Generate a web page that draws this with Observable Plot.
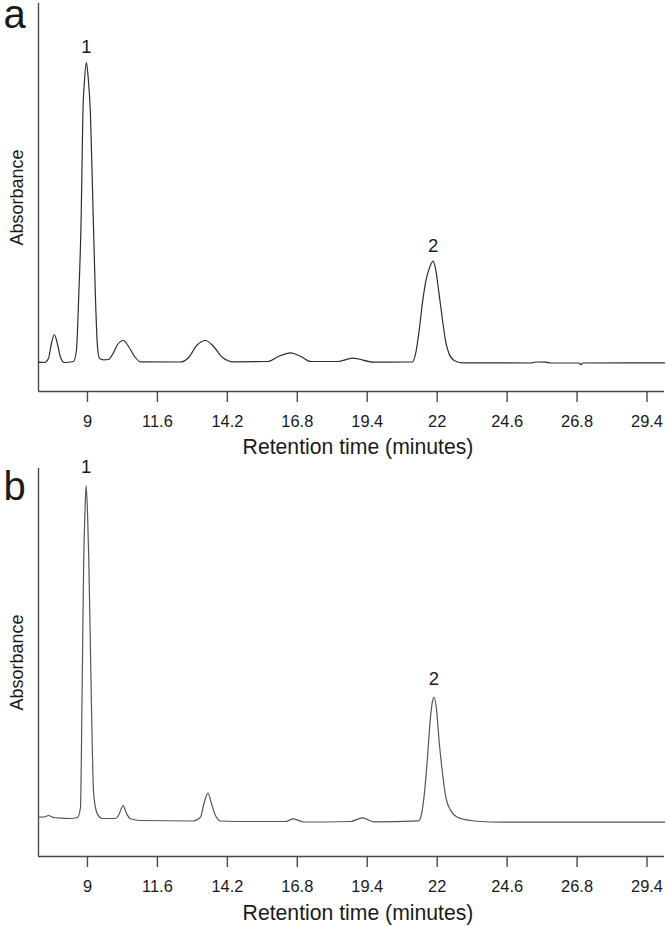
<!DOCTYPE html>
<html>
<head>
<meta charset="utf-8">
<script src="https://cdn.jsdelivr.net/npm/d3@7"></script>
<script src="https://cdn.jsdelivr.net/npm/@observablehq/plot@0.6"></script>
<style>
  html, body { margin: 0; padding: 0; background: #fff; }
  #chart { width: 666px; }
  #chart svg { display: block; }
</style>
</head>
<body>
<div id="chart"></div>
<script>
// ---- Data ----
// Tick positions are evenly spaced on the picture; the last two printed labels
// read 26.8 and 29.4 although they sit where 27.2 and 29.8 would fall.
const xTickValues = [9, 11.6, 14.2, 16.8, 19.4, 22, 24.6, 27.2, 29.8];
const xTickLabels = ["9", "11.6", "14.2", "16.8", "19.4", "22", "24.6", "26.8", "29.4"];
const xDomain = [7.18, 30.45];

// Panel a trace: retention time (min) and absorbance (arbitrary units)
const timeA = [7.18, 7.40, 7.55, 7.66, 7.77, 7.88, 8.00, 8.14, 8.48, 8.59, 8.67, 8.77, 8.83, 8.89, 8.96, 9.02, 9.11, 9.21, 9.30, 9.37, 9.45, 9.60, 9.78, 9.93, 10.12, 10.33, 10.53, 10.75, 10.97, 12.46, 12.76, 13.06, 13.39, 13.69, 14.02, 14.43, 15.70, 16.10, 16.55, 16.93, 17.30, 18.30, 18.85, 19.64, 21.08, 21.20, 21.33, 21.45, 21.57, 21.70, 21.85, 21.95, 22.07, 22.20, 22.32, 22.44, 22.63, 22.94, 25.48, 25.67, 26.04, 26.22, 27.27, 27.34, 27.42, 30.45];
const absA  = [0.1, 0, 1.33, 6.33, 9.33, 6.33, 1.67, 0, 0.33, 4, 20.7, 50, 83, 94, 100, 95.7, 83, 50, 20.7, 5.67, 1.33, 0.9, 1.0, 2.67, 6, 7.33, 5.33, 2, 0.23, 0.17, 1.67, 5.67, 7.33, 5.33, 1.67, 0.23, 0.33, 2, 3.23, 2, 0.33, 0.33, 1.43, 0.1, 0.17, 3, 10.7, 19.7, 26.8, 31.2, 33.8, 30.7, 22.9, 14, 6.77, 2.9, 0.67, -0.1, -0.17, 0.17, 0.1, -0.17, -0.17, -0.67, -0.17, -0.1];

// Panel b trace
const timeB = [7.18, 7.40, 7.55, 7.74, 8.00, 8.37, 8.63, 8.74, 8.80, 8.86, 8.91, 8.95, 9.00, 9.05, 9.14, 9.23, 9.36, 9.55, 10.04, 10.15, 10.33, 10.45, 10.60, 10.97, 12.94, 13.20, 13.33, 13.48, 13.61, 13.76, 13.95, 15.06, 16.37, 16.65, 17.04, 18.78, 19.22, 19.64, 21.31, 21.39, 21.51, 21.64, 21.73, 21.82, 21.88, 21.98, 22.07, 22.20, 22.32, 22.50, 22.75, 23.25, 23.62, 24.36, 28.08, 30.45];
const absB  = [1.43, 1.5, 2.0, 1.33, 1.1, 1.0, 1.33, 4.67, 42.7, 87, 103.7, 112, 103.7, 87, 42.7, 9.3, 2.7, 1.0, 1.0, 2, 5.3, 2.7, 0.9, 0.33, 0.17, 1.43, 6, 9.43, 6, 2, 0.17, 0, 0, 0.9, -0.17, 0, 1.23, -0.1, 0.23, 1.43, 8.1, 21.4, 32.6, 39.8, 41.4, 37, 27, 15.9, 8.1, 3.7, 1.43, 0.33, 0, -0.23, -0.23, -0.23];

// Peak annotations
const peakLabels = ["1", "2"];
const peakTimeA = [8.96, 21.85];
const peakAbsA  = [100, 33.8];
const peakTimeB = [8.95, 21.88];
const peakAbsB  = [112, 41.4];

const panelLetters = ["a", "b"];
const yLabel = "Absorbance";
const xLabel = "Retention time (minutes)";

const FONT = "'Liberation Sans', Arial, Helvetica, sans-serif";

function panel({letter, time, abs, peakT, peakV, yDomain, marginTop, marginBottom, stroke, letterDy, labelDy, titleDy}) {
  const data = time.map((t, i) => ({t, v: abs[i]}));
  return Plot.plot({
    width: 666,
    height: 463,
    marginLeft: 38,
    marginRight: 2,
    marginTop,
    marginBottom,
    style: {fontFamily: FONT, background: "white", color: "#1a1a1a", overflow: "visible"},
    x: {domain: xDomain},
    y: {domain: yDomain, axis: null},
    marks: [
      Plot.axisX({
        ticks: xTickValues,
        tickFormat: d => xTickLabels[xTickValues.indexOf(d)],
        tickSize: 11,
        tickPadding: 13,
        fontSize: 16.4,
        label: null,
        stroke: "#4a4a4a",
        strokeWidth: 1.4
      }),
      Plot.ruleX([xDomain[0]], {stroke: "#4a4a4a", strokeWidth: 1.4}),
      Plot.ruleY([yDomain[0]], {stroke: "#4a4a4a", strokeWidth: 1.4}),
      Plot.line(data, {x: "t", y: "v", stroke, strokeWidth: 1.2, curve: "monotone-x"}),
      Plot.text(peakLabels, {x: (d, i) => peakT[i], y: (d, i) => peakV[i], text: d => d, dy: labelDy, fontSize: 18.5}),
      Plot.text([letter], {frameAnchor: "top-left", dx: -24, dy: letterDy, fontSize: 40, lineAnchor: "bottom", textAnchor: "middle"}),
      Plot.text([yLabel], {frameAnchor: "left", rotate: -90, dx: -21.5, fontSize: 18, lineAnchor: "middle", textAnchor: "middle"}),
      Plot.text([xLabel], {frameAnchor: "bottom", dx: 6.5, dy: titleDy, fontSize: 21.2, lineAnchor: "middle", textAnchor: "middle"})
    ]
  });
}

const chart = document.getElementById("chart");
chart.append(panel({
  letter: panelLetters[0], time: timeA, abs: absA, peakT: peakTimeA, peakV: peakAbsA,
  yDomain: [-9.67, 119.67], marginTop: 3, marginBottom: 72, stroke: "#2e2e2e",
  letterDy: 24, labelDy: -15, titleDy: 55.5
}));
chart.append(panel({
  letter: panelLetters[1], time: timeB, abs: absB, peakT: peakTimeB, peakV: peakAbsB,
  yDomain: [-11.67, 117.67], marginTop: 5, marginBottom: 70, stroke: "#555555",
  letterDy: 31, labelDy: -18, titleDy: 56.5
}));
</script>
</body>
</html>
